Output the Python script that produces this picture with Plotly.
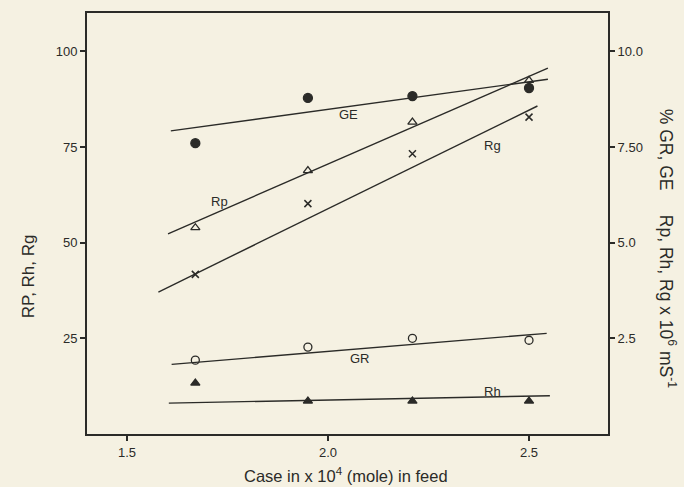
import plotly.graph_objects as go

# x values: Case in x 10^4 (mole) in feed
case_x = [1.67, 1.95, 2.21, 2.5]

# left axis series (Rp, Rh, Rg)
rp_vals = [53.9, 68.8, 81.5, 92.4]
rg_vals = [41.7, 60.2, 73.2, 82.8]
rh_vals = [13.3, 8.6, 8.6, 8.6]

# right axis series (% GR, GE)
ge_vals = [7.60, 8.78, 8.83, 9.04]
gr_vals = [1.93, 2.27, 2.50, 2.45]

# hand-drawn fit lines (endpoints in data units)
ge_line_x = [1.609, 2.547]
ge_line_y = [7.92, 9.27]
rp_line_x = [1.602, 2.547]
rp_line_y = [52.3, 95.6]
rg_line_x = [1.578, 2.521]
rg_line_y = [37.1, 85.7]
gr_line_x = [1.611, 2.544]
gr_line_y = [1.82, 2.63]
rh_line_x = [1.604, 2.552]
rh_line_y = [8.07, 10.0]

left_ticks = [25, 50, 75, 100]
left_tick_text = ["25", "50", "75", "100"]
right_ticks = [2.5, 5.0, 7.5, 10.0]
right_tick_text = ["2.5", "5.0", "7.50", "10.0"]
x_ticks = [1.5, 2.0, 2.5]
x_tick_text = ["1.5", "2.0", "2.5"]

ink = "#2b2b28"
bg = "#f5f1e2"
font = "Liberation Sans, Arial, sans-serif"

fig = go.Figure()

def line(xs, ys, axis="y"):
    fig.add_trace(go.Scatter(x=xs, y=ys, mode="lines", yaxis=axis,
                             line=dict(color=ink, width=1.4),
                             showlegend=False, hoverinfo="skip"))

def pts(xs, ys, symbol, size, axis="y", lw=1.3):
    fig.add_trace(go.Scatter(x=xs, y=ys, mode="markers", yaxis=axis,
                             marker=dict(symbol=symbol, size=size, color=ink,
                                         line=dict(color=ink, width=lw)),
                             showlegend=False))

line(ge_line_x, ge_line_y, "y2")
line(rp_line_x, rp_line_y)
line(rg_line_x, rg_line_y)
line(gr_line_x, gr_line_y, "y2")
line(rh_line_x, rh_line_y)

pts(case_x, ge_vals, "circle", 9, "y2")
pts(case_x, rp_vals, "triangle-up-open", 8)
pts(case_x, rg_vals, "x-thin-open", 7, lw=1.5)
pts(case_x, gr_vals, "circle-open", 8, "y2")
pts(case_x, rh_vals, "triangle-up", 8)

labels = [("GE", 2.05, 83.5), ("Rp", 1.73, 60.8), ("Rg", 2.41, 75.3),
          ("GR", 2.08, 19.8), ("Rh", 2.41, 11.0)]
for txt, lx, ly in labels:
    fig.add_annotation(x=lx, y=ly, xref="x", yref="y", text=txt, showarrow=False,
                       font=dict(size=13, color=ink, family=font))

fig.add_annotation(x=-0.135, y=0.375, xref="paper", yref="paper", text="RP, Rh, Rg",
                   textangle=-90, showarrow=False,
                   font=dict(size=17, color=ink, family=font))
fig.add_annotation(x=1.14, y=0.44, xref="paper", yref="paper",
                   text="% GR, GE&nbsp;&nbsp;&nbsp;&nbsp;&nbsp;Rp, Rh, Rg x 10<sup>6</sup> mS<sup>-1</sup>",
                   textangle=90, showarrow=False,
                   font=dict(size=17.5, color=ink, family=font))
fig.add_annotation(x=0.497, y=-0.098, xref="paper", yref="paper",
                   text="Case in x 10<sup>4</sup> (mole) in feed",
                   showarrow=False, yanchor="middle",
                   font=dict(size=16.5, color=ink, family=font))

axis_common = dict(showgrid=False, zeroline=False, showline=True, linecolor=ink,
                   linewidth=2, ticks="outside", ticklen=5, tickwidth=1.5,
                   tickcolor=ink, automargin=False,
                   tickfont=dict(size=13, color=ink, family=font))

fig.update_layout(
    width=684, height=487,
    margin=dict(l=87, r=76, t=13, b=53),
    paper_bgcolor=bg, plot_bgcolor=bg,
    xaxis=dict(range=[1.4005, 2.6965], tickvals=x_ticks, ticktext=x_tick_text,
               mirror=True, **axis_common),
    yaxis=dict(range=[0, 110], tickvals=left_ticks, ticktext=left_tick_text,
               **axis_common),
    yaxis2=dict(range=[0, 11], tickvals=right_ticks, ticktext=right_tick_text,
                overlaying="y", side="right", **axis_common),
)

fig.write_html("out.html")
